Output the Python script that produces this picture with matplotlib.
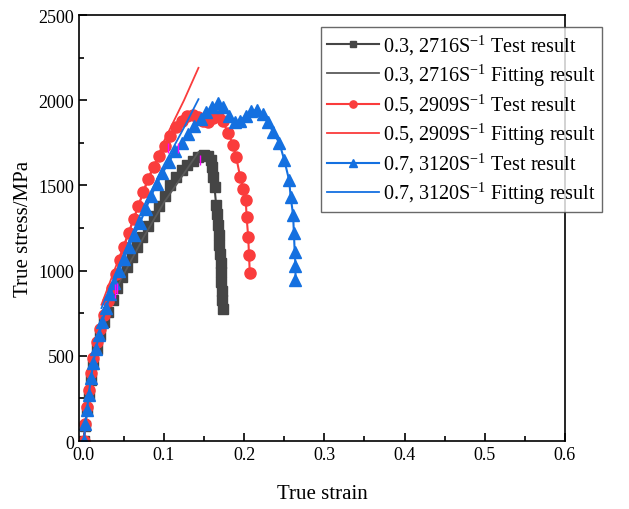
import matplotlib
matplotlib.use('Agg')
import matplotlib.pyplot as plt
from matplotlib.ticker import MultipleLocator

plt.rcParams['font.family'] = ['Liberation Serif', 'DejaVu Serif']
plt.rcParams['mathtext.fontset'] = 'custom'
plt.rcParams['mathtext.rm'] = 'Liberation Serif'
plt.rcParams['mathtext.it'] = 'Liberation Serif:italic'

# Data
strain_03 = [0.000, 0.002, 0.004, 0.006, 0.009, 0.012, 0.016, 0.020, 0.025, 0.030,
             0.036, 0.042, 0.048, 0.054, 0.060, 0.066, 0.073, 0.080, 0.087, 0.094,
             0.101, 0.108, 0.115, 0.122, 0.129, 0.136, 0.143, 0.150, 0.155, 0.158,
             0.160, 0.161, 0.163, 0.165, 0.166, 0.167, 0.168, 0.169, 0.170, 0.1705,
             0.171, 0.1712, 0.172, 0.1725, 0.173]
stress_03 = [0, 90, 180, 270, 360, 450, 540, 620, 700, 760,
             830, 900, 960, 1020, 1080, 1140, 1200, 1260, 1320, 1380,
             1440, 1500, 1550, 1590, 1620, 1645, 1665, 1680, 1675, 1650,
             1608, 1550, 1491, 1386, 1330, 1269, 1210, 1152, 1100, 1047,
             990, 936, 880, 830, 772]

strain_05 = [0.000, 0.002, 0.004, 0.006, 0.009, 0.012, 0.016, 0.020, 0.025, 0.030,
             0.035, 0.040, 0.045, 0.050, 0.056, 0.062, 0.068, 0.074, 0.080, 0.087,
             0.094, 0.101, 0.108, 0.115, 0.122, 0.129, 0.136, 0.143, 0.149, 0.155,
             0.161, 0.167, 0.173, 0.180, 0.186, 0.190, 0.195, 0.199, 0.202, 0.203,
             0.205, 0.206, 0.207]
stress_05 = [0, 100, 200, 300, 400, 490, 580, 660, 740, 820,
             900, 980, 1060, 1140, 1220, 1300, 1380, 1460, 1540, 1610,
             1670, 1730, 1790, 1840, 1880, 1905, 1915, 1900, 1880, 1875,
             1895, 1910, 1880, 1807, 1740, 1667, 1550, 1480, 1415, 1316,
             1200, 1094, 988]

strain_07 = [0.000, 0.002, 0.004, 0.006, 0.009, 0.012, 0.015, 0.019, 0.023, 0.028,
             0.033, 0.038, 0.044, 0.050, 0.056, 0.063, 0.070, 0.077, 0.084, 0.091,
             0.098, 0.106, 0.114, 0.122, 0.130, 0.138, 0.146, 0.153, 0.160, 0.167,
             0.174, 0.181, 0.188, 0.195, 0.202, 0.209, 0.216, 0.223, 0.230, 0.236,
             0.244, 0.250, 0.256, 0.258, 0.261, 0.262, 0.263, 0.264, 0.264]
stress_07 = [0, 100, 180, 270, 370, 460, 540, 620, 700, 780,
             860, 930, 1000, 1070, 1140, 1210, 1280, 1360, 1440, 1510,
             1570, 1640, 1700, 1750, 1800, 1850, 1890, 1930, 1960, 1985,
             1960, 1910, 1875, 1880, 1910, 1935, 1945, 1920, 1870, 1813,
             1748, 1649, 1532, 1433, 1327, 1222, 1111, 1030, 947]

fit_strain_03 = [0.025, 0.050, 0.075, 0.100, 0.125, 0.143]
fit_stress_03 = [760, 980, 1200, 1400, 1570, 1696]
fit_strain_05 = [0.022, 0.050, 0.075, 0.100, 0.125, 0.143]
fit_stress_05 = [800, 1150, 1470, 1760, 2000, 2190]
fit_strain_07 = [0.022, 0.050, 0.075, 0.100, 0.125, 0.143]
fit_stress_07 = [780, 1100, 1380, 1620, 1840, 2006]

# small magenta marks seen on the curves
mark_x = [0.105, 0.118, 0.145, 0.039, 0.041]
mark_lo = [1690, 1690, 1620, 840, 860]
mark_hi = [1750, 1750, 1680, 920, 930]

labels = ['0.3, 2716S$^{-1}$', '0.5, 2909S$^{-1}$', '0.7, 3120S$^{-1}$']

c_black = '#454545'
c_red = '#fa3c3c'
c_blue = '#1470e0'

fig = plt.figure(figsize=(6.29, 5.10), dpi=100)
ax = fig.add_axes([0.1256, 0.1333, 0.7725, 0.8353])

ax.plot(strain_03, stress_03, color=c_black, marker='s', markersize=6.5, lw=1.5,
        label=labels[0] + ' Test result')
ax.plot(fit_strain_03, fit_stress_03, color='#5a5a5a', lw=1.3,
        label=labels[0] + ' Fitting result')
ax.plot(strain_05, stress_05, color=c_red, marker='o', markersize=8, lw=1.5,
        label=labels[1] + ' Test result')
ax.plot(fit_strain_05, fit_stress_05, color=c_red, lw=1.3,
        label=labels[1] + ' Fitting result')
ax.plot(strain_07, stress_07, color=c_blue, marker='^', markersize=8.5, lw=1.5,
        label=labels[2] + ' Test result')
ax.plot(fit_strain_07, fit_stress_07, color=c_blue, lw=1.3,
        label=labels[2] + ' Fitting result')
ax.vlines(mark_x, mark_lo, mark_hi, color='magenta', lw=1)

ax.set_xlim(-0.006, 0.6)
ax.set_ylim(0, 2500)
ax.xaxis.set_major_locator(MultipleLocator(0.1))
ax.xaxis.set_minor_locator(MultipleLocator(0.05))
ax.yaxis.set_major_locator(MultipleLocator(500))
ax.yaxis.set_minor_locator(MultipleLocator(250))
ax.tick_params(which='both', direction='in', top=False, right=False, labelsize=13)
ax.tick_params(which='major', length=6, width=1.2)
ax.tick_params(which='minor', length=3.5, width=1.2)
for s in ax.spines.values():
    s.set_linewidth(1.2)

ax.set_xlabel('True strain', fontsize=15, labelpad=15)
ax.set_ylabel('True stress/MPa', fontsize=15, labelpad=4)

leg = ax.legend(loc='upper right', fontsize=14.5, frameon=True, fancybox=False,
                edgecolor='#444444', handlelength=2.6, handletextpad=0.2,
                labelspacing=0.22, borderpad=0.3, markerscale=0.65,
                borderaxespad=0, bbox_to_anchor=(1.076, 0.972))
leg.get_frame().set_linewidth(1.0)

fig.savefig('out.png', dpi=100)
